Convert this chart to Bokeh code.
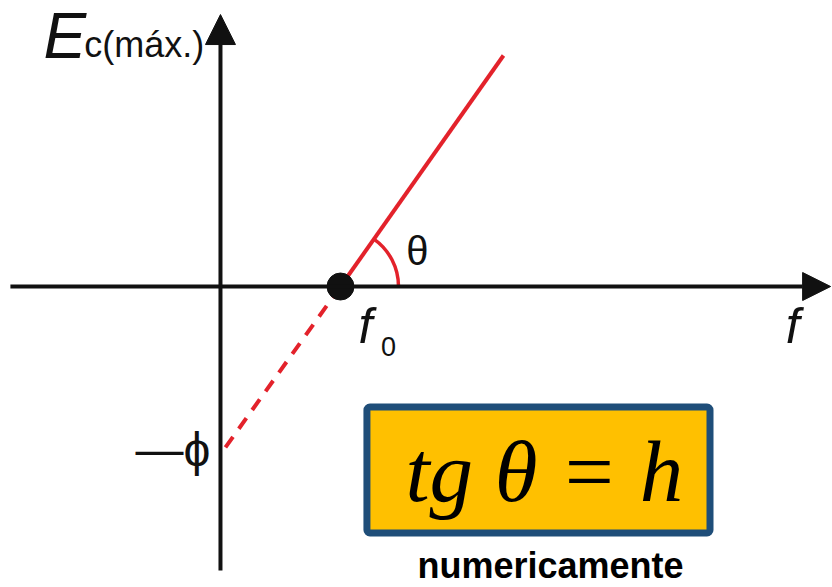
import numpy as np
from bokeh.plotting import figure
from bokeh.models import Range1d, Arrow, NormalHead, Label, BoxAnnotation
from bokeh.embed import file_html
from bokeh.resources import INLINE

# ---- data (arbitrary units) ----
f0 = 1.017                      # threshold frequency
phi = 1.38                      # work function (intercept -phi)
f_line = [1.017, 2.398]         # solid part of Ec(max) vs f
E_line = [0.0, 1.958]
f_dash = [0.042, 1.017]         # dashed extrapolation to f = 0
E_dash = [-1.364, 0.0]
f_axis = [-1.78, 5.17]          # horizontal axis extent
E_axis = [-2.407, 2.305]        # vertical axis extent
box_f = [1.241, 4.148]          # formula box
box_E = [-2.089, -1.021]

RED = "#e3222b"
BLACK = "#111111"

p = figure(width=832, height=587, x_range=Range1d(-1.864, 5.186),
           y_range=Range1d(-2.551, 2.424), output_backend="svg",
           toolbar_location=None, min_border=0)
p.axis.visible = False
p.grid.visible = False
p.outline_line_color = None
p.background_fill_color = "white"

# axes with arrows
p.add_layout(Arrow(x_start=f_axis[0], y_start=0, x_end=f_axis[1], y_end=0,
                   line_width=4, line_color=BLACK,
                   end=NormalHead(size=28, fill_color=BLACK, line_color=BLACK)))
p.add_layout(Arrow(x_start=0, y_start=E_axis[0], x_end=0, y_end=E_axis[1],
                   line_width=4, line_color=BLACK,
                   end=NormalHead(size=30, fill_color=BLACK, line_color=BLACK)))

# red lines
p.line(f_line, E_line, line_color=RED, line_width=4)
p.line(f_dash, E_dash, line_color=RED, line_width=4, line_dash="13 10")

# theta arc
ang = float(np.arctan2(E_line[1] - E_line[0], f_line[1] - f_line[0]))
p.arc(x=[f0], y=[0], radius=58, radius_units="screen", start_angle=0,
      end_angle=ang, line_color=RED, line_width=3.5)

# point at f0
p.scatter([f0], [0], size=27, fill_color=BLACK, line_color=BLACK)

# labels
font = "Liberation Sans"
p.add_layout(Label(x=1.669, y=0.305, text="θ", text_font=font, text_font_size="40px",
                   text_align="center", text_baseline="middle", text_color=BLACK))
p.add_layout(Label(x=1.169, y=-0.331, text="f", text_font=font, text_font_style="italic",
                   text_font_size="50px", text_baseline="middle", text_color=BLACK))
p.add_layout(Label(x=1.36, y=-0.51, text="0", text_font=font,
                   text_font_size="27px", text_baseline="middle", text_color=BLACK))
p.add_layout(Label(x=4.79, y=-0.335, text="f", text_font=font, text_font_style="italic",
                   text_font_size="50px", text_baseline="middle", text_color=BLACK))
p.add_layout(Label(x=-1.50, y=2.127, text="E", text_font=font, text_font_style="italic",
                   text_font_size="64px", text_baseline="middle", text_color=BLACK))
p.add_layout(Label(x=-1.155, y=2.051, text="c(máx.)", text_font=font,
                   text_font_size="36px", text_baseline="middle", text_color=BLACK))
p.add_layout(Label(x=-0.085, y=-phi, text="—ϕ", text_font=font,
                   text_font_size="48px", text_align="right", text_baseline="middle",
                   text_color=BLACK))

# formula box
p.add_layout(BoxAnnotation(left=box_f[0], right=box_f[1], bottom=box_E[0], top=box_E[1],
                           fill_color="#FFC000", fill_alpha=1.0, line_color="#1F4E79",
                           line_width=7, line_alpha=1.0, border_radius=3, level="overlay"))
p.add_layout(Label(x=(box_f[0] + box_f[1]) / 2 + 0.05, y=-1.568, text="tg θ = h",
                   text_font="Liberation Serif", text_font_style="italic",
                   text_font_size="87px", text_align="center", text_baseline="middle",
                   text_color="black", level="overlay"))
p.add_layout(Label(x=2.797, y=-2.364, text="numericamente", text_font=font,
                   text_font_style="bold", text_font_size="36px", text_align="center",
                   text_baseline="middle", text_color="black"))

open("out.html", "w").write(file_html(p, INLINE))
